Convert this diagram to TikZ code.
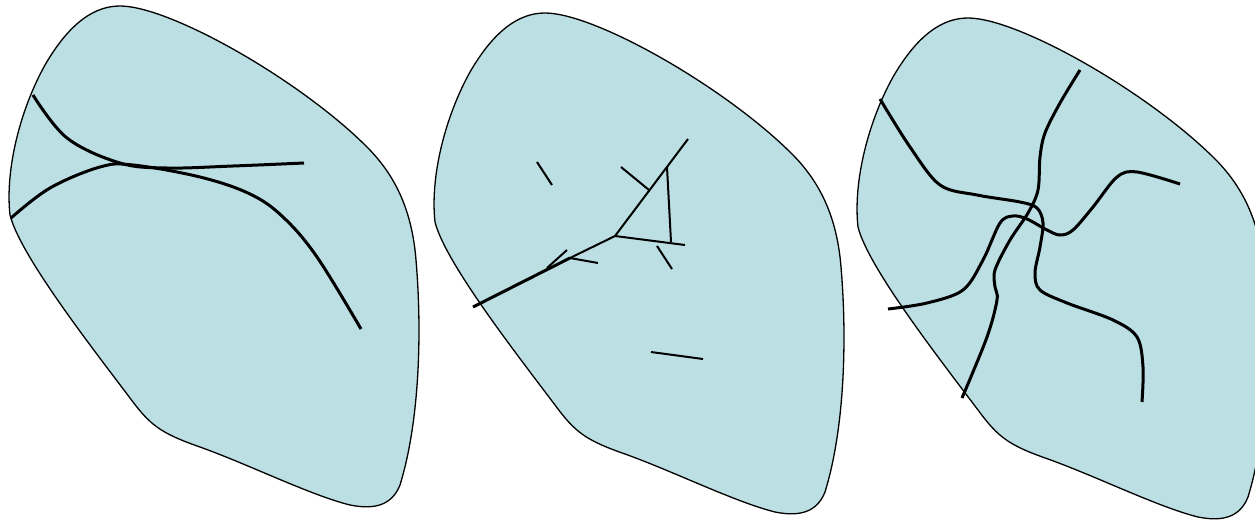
\documentclass[tikz,border=0pt]{standalone}
\definecolor{blobfill}{RGB}{187,223,227}
\tikzset{
  blob/.style={fill=blobfill, draw=black, line width=1.3pt},
  crack/.style={draw=black, line width=3pt, line cap=butt},
  thin crack/.style={draw=black, line width=2pt},
}
\newcommand{\blobpath}{(120,6) .. controls (170,6) and (300,80) .. (367,147) .. controls (395,175) and (412,210) .. (416,260) .. controls (422,330) and (420,420) .. (400,485) .. controls (392,505) and (375,510) .. (350,505) .. controls (310,495) and (250,465) .. (200,447) .. controls (160,433) and (150,425) .. (130,398) .. controls (90,345) and (20,255) .. (10,215) .. controls (5,170) and (20,110) .. (45,65) .. controls (70,22) and (95,6) .. (120,6) -- cycle}
\begin{document}
\begin{tikzpicture}[x=1pt,y=-1pt]
\useasboundingbox (0,0) rectangle (1255,525);
\clip (0,0) rectangle (1255,525);
% left blob
\path[blob] \blobpath;
\draw[crack] plot[smooth, tension=0.6] coordinates {(33,95) (67,138) (120,163) (167,168) (233,166) (304,163)};
\draw[crack] plot[smooth, tension=0.6] coordinates {(11,218) (50,188) (100,167) (133,165) (200,177) (250,194) (283,217) (317,257) (361,329)};
% middle blob
\begin{scope}[shift={(425,7)}]
\path[blob] \blobpath;
\end{scope}
\draw[crack] (473,307) -- (570,258);
\draw[thin crack] (570,258) -- (615,236);
\draw[thin crack] (615,236) -- (688,139);
\draw[thin crack] (621,167) -- (649,190);
\draw[thin crack] (667,167) -- (671,242);
\draw[thin crack] (615,236) -- (685,245);
\draw[thin crack] (537,162) -- (552,185);
\draw[thin crack] (657,246) -- (672,269);
\draw[thin crack] (567,250) -- (547,268);
\draw[thin crack] (570,258) -- (598,263);
\draw[thin crack] (651,352) -- (703,359);
% right blob
\begin{scope}[shift={(848,12)}]
\path[blob] \blobpath;
\end{scope}
\draw[crack] plot[smooth, tension=0.55] coordinates {(880,99) (910,147) (940,185) (977,195) (1020,202) (1037,208) (1043,223) (1040,247) (1035,273) (1040,290) (1067,303) (1113,320) (1137,337) (1143,367) (1142,402)};
\draw[crack] plot[smooth, tension=0.55] coordinates {(1080,70) (1060,103) (1045,133) (1040,157) (1038,190) (1028,213) (1010,240) (995,270) (995,287) (997,300) (987,337) (962,398)};
\draw[crack] plot[smooth, tension=0.55] coordinates {(888,309) (927,303) (963,290) (983,260) (1000,223) (1013,216) (1027,219) (1047,230) (1060,235) (1073,230) (1093,207) (1117,177) (1137,172) (1180,184)};
\end{tikzpicture}
\end{document}
